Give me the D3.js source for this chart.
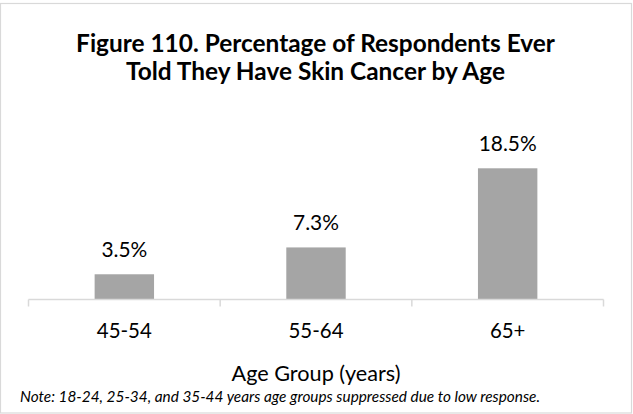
<!DOCTYPE html>
<html>
<head>
<meta charset="utf-8">
<script src="https://cdn.jsdelivr.net/npm/d3@7"></script>
<style>
  html, body { margin: 0; padding: 0; background: #fff; }
  svg { display: block; }
  text { font-family: Lato, "Open Sans", sans-serif; fill: #000; }
</style>
</head>
<body>
<svg id="chart" width="633" height="414"></svg>
<script>
// ---- data ----
const categories = ["45-54", "55-64", "65+"];
const values = [3.5, 7.3, 18.5];
const valueLabels = ["3.5%", "7.3%", "18.5%"];
const titleLines = ["Figure 110. Percentage of Respondents Ever", "Told They Have Skin Cancer by Age"];
const xAxisTitle = "Age Group (years)";
const note = "Note: 18-24, 25-34, and 35-44 years age groups suppressed due to low response.";

const svg = d3.select("#chart");
const W = 633, H = 414;

// frame
svg.append("rect")
  .attr("x", 0.5).attr("y", 3.5).attr("width", 631).attr("height", 409.5)
  .attr("fill", "#fff").attr("stroke", "#d9d9d9").attr("stroke-width", 1.2);

const x = d3.scaleBand().domain(categories).range([28.5, 603.5]).paddingInner(0.69).paddingOuter(0.345);
const y = d3.scaleLinear().domain([0, 20]).range([299, 157.7]);

// fit helper: scale font size so text width matches target
function fit(sel, target, base) {
  sel.style("font-size", base + "px");
  const w = sel.node().getComputedTextLength();
  sel.style("font-size", (base * target / w).toFixed(2) + "px");
}

// bars
svg.append("g").selectAll("rect").data(values).join("rect")
  .attr("x", (d, i) => x(categories[i]))
  .attr("y", d => y(d))
  .attr("width", x.bandwidth())
  .attr("height", d => y(0) - y(d))
  .attr("fill", "#a5a5a5");

// x axis
const xAxis = d3.axisBottom(x).tickSize(0).tickFormat("");
const gx = svg.append("g").attr("transform", "translate(0,299.5)").call(xAxis);
gx.select(".domain").attr("stroke", "#d9d9d9").attr("stroke-width", 1.5).attr("d", "M28.5,0H603.5");
gx.selectAll(".tick").remove();
const bounds = [x.range()[0]].concat(categories.map(c => x(c) - x.step() * x.paddingInner() / 2 + x.step()));
bounds[bounds.length - 1] = x.range()[1];
gx.selectAll("line.sep").data(bounds).join("line").attr("class", "sep")
  .attr("x1", d => d).attr("x2", d => d).attr("y1", 0).attr("y2", 7)
  .attr("stroke", "#d9d9d9").attr("stroke-width", 1.5);

// category labels
const cl = svg.append("g").selectAll("text").data(categories).join("text")
  .attr("x", d => x(d) + x.bandwidth() / 2)
  .attr("y", 338)
  .attr("text-anchor", "middle")
  .text(d => d);
{
  const t = cl.filter((d, i) => i === 0);
  t.style("font-size", "22px");
  const w = t.node().getComputedTextLength();
  cl.style("font-size", (22 * 55 / w).toFixed(2) + "px");
}

// value labels
const vl = svg.append("g").selectAll("text").data(values).join("text")
  .attr("x", (d, i) => x(categories[i]) + x.bandwidth() / 2)
  .attr("y", d => y(d) - 17.6)
  .attr("text-anchor", "middle")
  .text((d, i) => valueLabels[i]);
{
  const t = vl.filter((d, i) => i === 2);
  t.style("font-size", "22px");
  const w = t.node().getComputedTextLength();
  vl.style("font-size", (22 * 58 / w).toFixed(2) + "px");
}

// title
const tg = svg.append("g");
const tl = tg.selectAll("text").data(titleLines).join("text")
  .attr("x", 315.5)
  .attr("y", (d, i) => 52 + i * 28)
  .attr("text-anchor", "middle")
  .style("font-weight", "bold")
  .text(d => d);
{
  const t = tl.filter((d, i) => i === 0);
  t.style("font-size", "22px");
  const w = t.node().getComputedTextLength();
  tl.style("font-size", (22 * 479 / w).toFixed(2) + "px");
}

// axis title
const at = svg.append("text")
  .attr("x", 316).attr("y", 380.7)
  .attr("text-anchor", "middle")
  .text(xAxisTitle);
fit(at, 169, 22);

// note
const nt = svg.append("text")
  .attr("x", 20).attr("y", 401.7)
  .style("font-style", "italic")
  .text(note);
fit(nt, 520, 14);
</script>
</body>
</html>
